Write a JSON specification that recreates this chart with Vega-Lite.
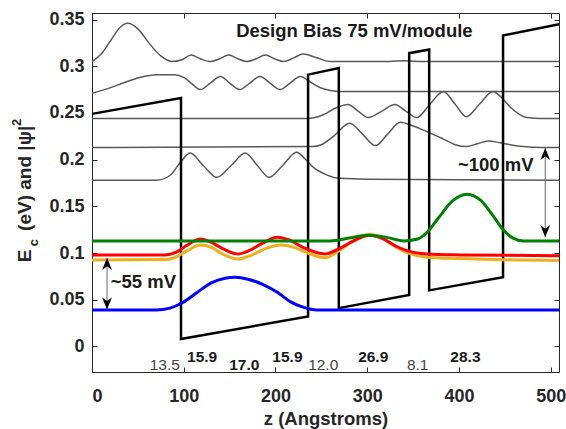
{
  "$schema": "https://vega.github.io/schema/vega-lite/v6.json",
  "width": 467,
  "height": 359,
  "autosize": {"type": "none"},
  "padding": {"left": 92, "top": 13, "right": 7, "bottom": 57},
  "background": "white",
  "config": {
    "view": {"stroke": null},
    "font": "Liberation Sans",
    "axis": {
      "grid": false,
      "domainColor": "#262626",
      "domainWidth": 1,
      "tickColor": "#262626",
      "tickSize": -5,
      "labelColor": "#262626",
      "labelFont": "Liberation Sans",
      "labelFontWeight": "bold",
      "labelFontSize": 18,
      "titleFont": "Liberation Sans",
      "titleFontWeight": "bold",
      "titleFontSize": 18.5,
      "titleColor": "#262626"
    }
  },
  "datasets": {
    "gray": [
      {"s":"g1","z":0,"E":0.305},{"s":"g1","z":10,"E":0.313},{"s":"g1","z":20,"E":0.327},{"s":"g1","z":30,"E":0.341},{"s":"g1","z":39,"E":0.346},{"s":"g1","z":50,"E":0.340},{"s":"g1","z":62,"E":0.325},{"s":"g1","z":75,"E":0.311},{"s":"g1","z":87,"E":0.305},{"s":"g1","z":98,"E":0.307},{"s":"g1","z":108,"E":0.312},{"s":"g1","z":118,"E":0.308},{"s":"g1","z":129,"E":0.305},{"s":"g1","z":139,"E":0.308},{"s":"g1","z":149,"E":0.312},{"s":"g1","z":159,"E":0.308},{"s":"g1","z":169,"E":0.305},{"s":"g1","z":179,"E":0.308},{"s":"g1","z":189,"E":0.312},{"s":"g1","z":199,"E":0.308},{"s":"g1","z":209,"E":0.305},{"s":"g1","z":220,"E":0.309},{"s":"g1","z":230,"E":0.313},{"s":"g1","z":245,"E":0.309},{"s":"g1","z":260,"E":0.305},{"s":"g1","z":300,"E":0.305},{"s":"g1","z":325,"E":0.305},{"s":"g1","z":339,"E":0.306},{"s":"g1","z":355,"E":0.305},{"s":"g1","z":509,"E":0.305},
      {"s":"g2","z":0,"E":0.271},{"s":"g2","z":17,"E":0.276},{"s":"g2","z":34,"E":0.282},{"s":"g2","z":52,"E":0.288},{"s":"g2","z":71,"E":0.291},{"s":"g2","z":90,"E":0.291},{"s":"g2","z":100,"E":0.288},{"s":"g2","z":108,"E":0.282},{"s":"g2","z":118,"E":0.275},{"s":"g2","z":129,"E":0.282},{"s":"g2","z":140,"E":0.289},{"s":"g2","z":150,"E":0.282},{"s":"g2","z":161,"E":0.275},{"s":"g2","z":172,"E":0.282},{"s":"g2","z":183,"E":0.289},{"s":"g2","z":194,"E":0.282},{"s":"g2","z":205,"E":0.275},{"s":"g2","z":216,"E":0.282},{"s":"g2","z":227,"E":0.289},{"s":"g2","z":238,"E":0.283},{"s":"g2","z":249,"E":0.277},{"s":"g2","z":260,"E":0.274},{"s":"g2","z":270,"E":0.273},{"s":"g2","z":509,"E":0.273},
      {"s":"g3","z":0,"E":0.244},{"s":"g3","z":234,"E":0.244},{"s":"g3","z":243,"E":0.245},{"s":"g3","z":252,"E":0.248},{"s":"g3","z":265,"E":0.255},{"s":"g3","z":279,"E":0.259},{"s":"g3","z":290,"E":0.252},{"s":"g3","z":301,"E":0.245},{"s":"g3","z":316,"E":0.252},{"s":"g3","z":330,"E":0.259},{"s":"g3","z":342,"E":0.252},{"s":"g3","z":354,"E":0.245},{"s":"g3","z":368,"E":0.259},{"s":"g3","z":383,"E":0.273},{"s":"g3","z":396,"E":0.259},{"s":"g3","z":408,"E":0.246},{"s":"g3","z":422,"E":0.259},{"s":"g3","z":437,"E":0.273},{"s":"g3","z":447,"E":0.266},{"s":"g3","z":456,"E":0.256},{"s":"g3","z":465,"E":0.249},{"s":"g3","z":474,"E":0.245},{"s":"g3","z":490,"E":0.244},{"s":"g3","z":509,"E":0.244},
      {"s":"g4","z":0,"E":0.213},{"s":"g4","z":240,"E":0.214},{"s":"g4","z":250,"E":0.216},{"s":"g4","z":262,"E":0.224},{"s":"g4","z":281,"E":0.239},{"s":"g4","z":295,"E":0.227},{"s":"g4","z":309,"E":0.215},{"s":"g4","z":322,"E":0.227},{"s":"g4","z":336,"E":0.240},{"s":"g4","z":350,"E":0.236},{"s":"g4","z":365,"E":0.230},{"s":"g4","z":383,"E":0.222},{"s":"g4","z":396,"E":0.216},{"s":"g4","z":408,"E":0.214},{"s":"g4","z":420,"E":0.217},{"s":"g4","z":432,"E":0.220},{"s":"g4","z":445,"E":0.218},{"s":"g4","z":456,"E":0.216},{"s":"g4","z":470,"E":0.214},{"s":"g4","z":490,"E":0.213},{"s":"g4","z":509,"E":0.213},
      {"s":"g5","z":0,"E":0.178},{"s":"g5","z":70,"E":0.178},{"s":"g5","z":85,"E":0.183},{"s":"g5","z":97,"E":0.198},{"s":"g5","z":107,"E":0.207},{"s":"g5","z":121,"E":0.194},{"s":"g5","z":136,"E":0.181},{"s":"g5","z":152,"E":0.194},{"s":"g5","z":167,"E":0.207},{"s":"g5","z":180,"E":0.194},{"s":"g5","z":193,"E":0.181},{"s":"g5","z":208,"E":0.194},{"s":"g5","z":223,"E":0.208},{"s":"g5","z":232,"E":0.201},{"s":"g5","z":241,"E":0.192},{"s":"g5","z":255,"E":0.184},{"s":"g5","z":270,"E":0.180},{"s":"g5","z":300,"E":0.179},{"s":"g5","z":509,"E":0.178}
    ],
    "band": [
      {"i":0,"z":0,"E":0.249},{"i":1,"z":97,"E":0.266},{"i":2,"z":97,"E":0.008},{"i":3,"z":235.5,"E":0.032},{"i":4,"z":235.5,"E":0.291},{"i":5,"z":269,"E":0.298},{"i":6,"z":269,"E":0.041},{"i":7,"z":345.7,"E":0.055},{"i":8,"z":345.7,"E":0.314},{"i":9,"z":367.5,"E":0.318},{"i":10,"z":367.5,"E":0.060},{"i":11,"z":448,"E":0.074},{"i":12,"z":448,"E":0.333},{"i":13,"z":509,"E":0.345}
    ],
    "color": [
      {"s":"blue","z":0,"E":0.039},{"s":"blue","z":70,"E":0.039},{"s":"blue","z":85,"E":0.041},{"s":"blue","z":99,"E":0.047},{"s":"blue","z":115,"E":0.058},{"s":"blue","z":130,"E":0.068},{"s":"blue","z":145,"E":0.073},{"s":"blue","z":156,"E":0.074},{"s":"blue","z":170,"E":0.072},{"s":"blue","z":187,"E":0.066},{"s":"blue","z":202,"E":0.058},{"s":"blue","z":216,"E":0.048},{"s":"blue","z":230,"E":0.042},{"s":"blue","z":245,"E":0.039},{"s":"blue","z":509,"E":0.039},
      {"s":"orange","z":0,"E":0.0925},{"s":"orange","z":80,"E":0.093},{"s":"orange","z":92,"E":0.096},{"s":"orange","z":103,"E":0.102},{"s":"orange","z":118,"E":0.1085},{"s":"orange","z":130,"E":0.106},{"s":"orange","z":142,"E":0.099},{"s":"orange","z":159,"E":0.0935},{"s":"orange","z":172,"E":0.097},{"s":"orange","z":190,"E":0.105},{"s":"orange","z":206,"E":0.1085},{"s":"orange","z":220,"E":0.106},{"s":"orange","z":235,"E":0.100},{"s":"orange","z":254,"E":0.095},{"s":"orange","z":270,"E":0.103},{"s":"orange","z":285,"E":0.113},{"s":"orange","z":303,"E":0.120},{"s":"orange","z":318,"E":0.115},{"s":"orange","z":332,"E":0.106},{"s":"orange","z":345,"E":0.100},{"s":"orange","z":365,"E":0.0955},{"s":"orange","z":400,"E":0.094},{"s":"orange","z":509,"E":0.092},
      {"s":"red","z":0,"E":0.098},{"s":"red","z":80,"E":0.098},{"s":"red","z":92,"E":0.101},{"s":"red","z":103,"E":0.108},{"s":"red","z":118,"E":0.115},{"s":"red","z":129,"E":0.112},{"s":"red","z":140,"E":0.106},{"s":"red","z":159,"E":0.099},{"s":"red","z":170,"E":0.102},{"s":"red","z":185,"E":0.110},{"s":"red","z":202,"E":0.117},{"s":"red","z":215,"E":0.114},{"s":"red","z":230,"E":0.106},{"s":"red","z":254,"E":0.099},{"s":"red","z":270,"E":0.105},{"s":"red","z":285,"E":0.113},{"s":"red","z":303,"E":0.119},{"s":"red","z":318,"E":0.115},{"s":"red","z":332,"E":0.107},{"s":"red","z":345,"E":0.102},{"s":"red","z":365,"E":0.099},{"s":"red","z":400,"E":0.098},{"s":"red","z":509,"E":0.097},
      {"s":"green","z":0,"E":0.113},{"s":"green","z":260,"E":0.113},{"s":"green","z":280,"E":0.116},{"s":"green","z":300,"E":0.119},{"s":"green","z":320,"E":0.117},{"s":"green","z":340,"E":0.113},{"s":"green","z":355,"E":0.115},{"s":"green","z":365,"E":0.122},{"s":"green","z":378,"E":0.138},{"s":"green","z":392,"E":0.155},{"s":"green","z":409,"E":0.163},{"s":"green","z":424,"E":0.156},{"s":"green","z":437,"E":0.140},{"s":"green","z":449,"E":0.124},{"s":"green","z":459,"E":0.116},{"s":"green","z":470,"E":0.113},{"s":"green","z":509,"E":0.113}
    ],
    "texts": [
      {"t":"Design Bias 75 mV/module","k":"title","z":286,"E":0.338},
      {"t":"~100 mV","k":"note","z":440,"E":0.194},
      {"t":"~55 mV","k":"note","z":56,"E":0.069},
      {"t":"15.9","k":"well","z":120,"E":-0.0113},
      {"t":"17.0","k":"well","z":166,"E":-0.0200},
      {"t":"15.9","k":"well","z":213,"E":-0.0113},
      {"t":"26.9","k":"well","z":306.5,"E":-0.0113},
      {"t":"28.3","k":"well","z":407,"E":-0.0113},
      {"t":"13.5","k":"barrier","z":79.3,"E":-0.0204},
      {"t":"12.0","k":"barrier","z":252,"E":-0.0204},
      {"t":"8.1","k":"barrier","z":355,"E":-0.0204},
      {"t":"E","k":"ybig","z":-73,"E":0.0968},
      {"t":"(eV) and |ψ|","k":"ybig","z":-73,"E":0.180},
      {"t":"c","k":"ysub","z":-63,"E":0.111},
      {"t":"2","k":"ysup","z":-82,"E":0.240}
    ],
    "rules": [
      {"z":16.4,"E":0.0395,"E2":0.0948},
      {"z":494,"E":0.117,"E2":0.2125}
    ],
    "heads": [
      {"z":16.4,"E":0.0948,"d":"up"},
      {"z":16.4,"E":0.0395,"d":"down"},
      {"z":494,"E":0.2125,"d":"up"},
      {"z":494,"E":0.117,"d":"down"}
    ]
  },
  "resolve": {"axis": {"x": "independent", "y": "independent"}},
  "layer": [
    {
      "data": {"name": "gray"},
      "mark": {"type": "line", "color": "#595959", "strokeWidth": 1.5, "interpolate": "monotone", "clip": true},
      "encoding": {
        "x": {"field": "z", "type": "quantitative", "scale": {"domain": [0, 509], "nice": false, "zero": false},
              "axis": {"orient": "bottom", "values": [0, 100, 200, 300, 400, 500], "title": "z (Angstroms)", "labelPadding": 20, "titlePadding": 4}},
        "y": {"field": "E", "type": "quantitative", "scale": {"domain": [-0.0274, 0.357], "nice": false, "zero": false},
              "axis": {"orient": "left", "values": [0, 0.05, 0.1, 0.15, 0.2, 0.25, 0.3, 0.35], "labelExpr": "format(datum.value, '~g')", "title": null, "labelPadding": 13}},
        "detail": {"field": "s"}
      }
    },
    {
      "data": {"name": "band"},
      "mark": {"type": "line", "strokeOpacity": 0},
      "encoding": {
        "x": {"field": "z", "type": "quantitative", "axis": {"orient": "top", "values": [0, 100, 200, 300, 400, 500], "labels": false, "title": null}},
        "y": {"field": "E", "type": "quantitative", "axis": {"orient": "right", "values": [0, 0.05, 0.1, 0.15, 0.2, 0.25, 0.3, 0.35], "labels": false, "title": null}},
        "order": {"field": "i", "type": "quantitative"}
      }
    },
    {
      "data": {"name": "band"},
      "mark": {"type": "line", "color": "black", "strokeWidth": 2.5, "interpolate": "linear", "strokeJoin": "miter"},
      "encoding": {
        "x": {"field": "z", "type": "quantitative", "axis": null},
        "y": {"field": "E", "type": "quantitative", "axis": null},
        "order": {"field": "i", "type": "quantitative"}
      }
    },
    {
      "data": {"name": "color"},
      "transform": [{"filter": "datum.s === 'blue'"}],
      "mark": {"type": "line", "color": "#0000ff", "strokeWidth": 3, "interpolate": "monotone"},
      "encoding": {
        "x": {"field": "z", "type": "quantitative", "axis": null},
        "y": {"field": "E", "type": "quantitative", "axis": null}
      }
    },
    {
      "data": {"name": "color"},
      "transform": [{"filter": "datum.s === 'orange'"}],
      "mark": {"type": "line", "color": "#edb120", "strokeWidth": 3, "interpolate": "monotone"},
      "encoding": {
        "x": {"field": "z", "type": "quantitative", "axis": null},
        "y": {"field": "E", "type": "quantitative", "axis": null}
      }
    },
    {
      "data": {"name": "color"},
      "transform": [{"filter": "datum.s === 'red'"}],
      "mark": {"type": "line", "color": "#ff0000", "strokeWidth": 3, "interpolate": "monotone"},
      "encoding": {
        "x": {"field": "z", "type": "quantitative", "axis": null},
        "y": {"field": "E", "type": "quantitative", "axis": null}
      }
    },
    {
      "data": {"name": "color"},
      "transform": [{"filter": "datum.s === 'green'"}],
      "mark": {"type": "line", "color": "#008000", "strokeWidth": 3, "interpolate": "monotone"},
      "encoding": {
        "x": {"field": "z", "type": "quantitative", "axis": null},
        "y": {"field": "E", "type": "quantitative", "axis": null}
      }
    },
    {
      "data": {"name": "rules"},
      "mark": {"type": "rule", "color": "#666666", "strokeWidth": 1},
      "encoding": {
        "x": {"field": "z", "type": "quantitative", "axis": null},
        "y": {"field": "E", "type": "quantitative", "axis": null},
        "y2": {"field": "E2"}
      }
    },
    {
      "data": {"name": "heads"},
      "mark": {"type": "point", "filled": true, "color": "black", "opacity": 1, "size": 170},
      "encoding": {
        "x": {"field": "z", "type": "quantitative", "axis": null},
        "y": {"field": "E", "type": "quantitative", "axis": null},
        "shape": {"field": "d", "type": "nominal", "legend": null,
                  "scale": {"domain": ["up", "down"], "range": ["M0,0L0.75,1.85L0,1.3L-0.75,1.85Z", "M0,0L0.75,-1.85L0,-1.3L-0.75,-1.85Z"]}}
      }
    },
    {
      "data": {"name": "texts"},
      "transform": [{"filter": "datum.k === 'title' || datum.k === 'note'"}],
      "mark": {"type": "text", "font": "Liberation Sans", "fontWeight": "bold", "fontSize": 18.5, "color": "#1a1a1a", "align": "center", "baseline": "middle"},
      "encoding": {
        "x": {"field": "z", "type": "quantitative", "axis": null},
        "y": {"field": "E", "type": "quantitative", "axis": null},
        "text": {"field": "t"}
      }
    },
    {
      "data": {"name": "texts"},
      "transform": [{"filter": "datum.k === 'well'"}],
      "mark": {"type": "text", "font": "Liberation Sans", "fontWeight": "bold", "fontSize": 15.5, "color": "#1a1a1a", "align": "center", "baseline": "middle"},
      "encoding": {
        "x": {"field": "z", "type": "quantitative", "axis": null},
        "y": {"field": "E", "type": "quantitative", "axis": null},
        "text": {"field": "t"}
      }
    },
    {
      "data": {"name": "texts"},
      "transform": [{"filter": "datum.k === 'barrier'"}],
      "mark": {"type": "text", "font": "Liberation Sans", "fontWeight": "normal", "fontSize": 15.5, "color": "#444444", "align": "center", "baseline": "middle"},
      "encoding": {
        "x": {"field": "z", "type": "quantitative", "axis": null},
        "y": {"field": "E", "type": "quantitative", "axis": null},
        "text": {"field": "t"}
      }
    },
    {
      "data": {"name": "texts"},
      "transform": [{"filter": "datum.k === 'ybig'"}],
      "mark": {"type": "text", "font": "Liberation Sans", "fontWeight": "bold", "fontSize": 19, "color": "#262626", "align": "center", "baseline": "middle", "angle": 270},
      "encoding": {
        "x": {"field": "z", "type": "quantitative", "axis": null},
        "y": {"field": "E", "type": "quantitative", "axis": null},
        "text": {"field": "t"}
      }
    },
    {
      "data": {"name": "texts"},
      "transform": [{"filter": "datum.k === 'ysub' || datum.k === 'ysup'"}],
      "mark": {"type": "text", "font": "Liberation Sans", "fontWeight": "bold", "fontSize": 13, "color": "#262626", "align": "center", "baseline": "middle", "angle": 270},
      "encoding": {
        "x": {"field": "z", "type": "quantitative", "axis": null},
        "y": {"field": "E", "type": "quantitative", "axis": null},
        "text": {"field": "t"}
      }
    }
  ]
}
